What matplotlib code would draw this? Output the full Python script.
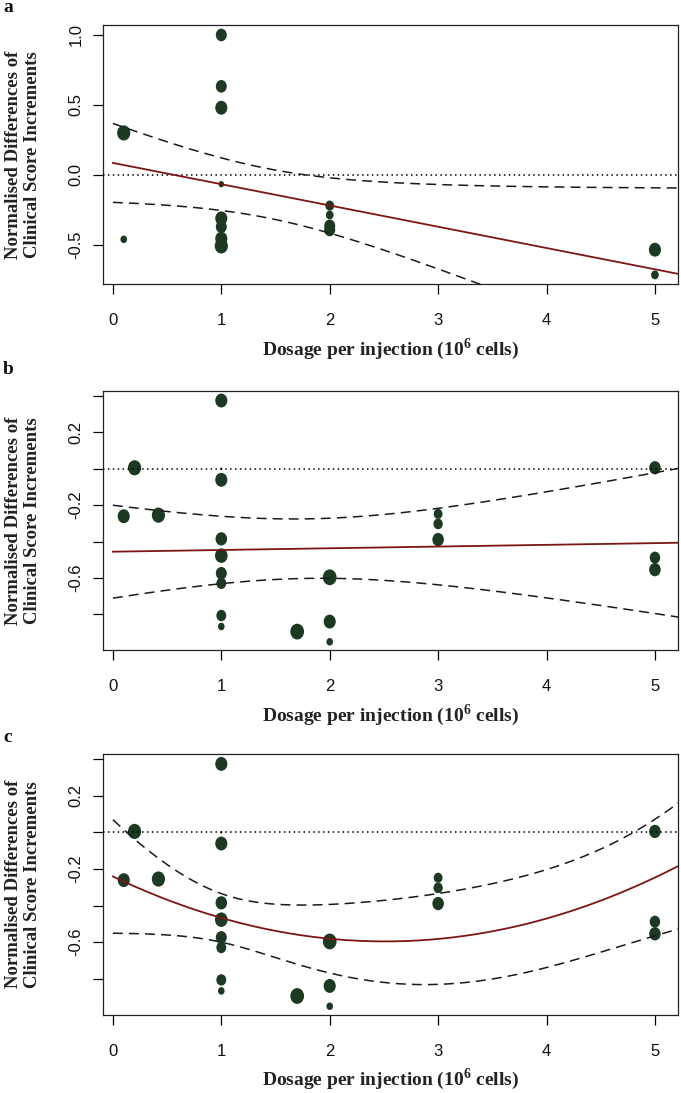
import numpy as np
import matplotlib
matplotlib.use("Agg")
import matplotlib.pyplot as plt
from matplotlib.ticker import FixedLocator, FixedFormatter
from matplotlib.path import Path
from matplotlib.transforms import Affine2D

plt.rcParams["mathtext.fontset"] = "custom"
plt.rcParams["mathtext.rm"] = "Liberation Serif:bold"
plt.rcParams["mathtext.bf"] = "Liberation Serif:bold"

# panel a data (dose, value, marker width in px)
a_x = [0.1, 0.1, 1, 1, 1, 1, 1, 1, 1, 1, 2, 2, 2, 2, 5, 5]
a_y = [0.30, -0.46, 1.00, 0.633, 0.48, -0.066, -0.31, -0.37, -0.455, -0.507,
       -0.219, -0.286, -0.364, -0.393, -0.534, -0.714]
a_size = [12, 6, 10, 10, 11, 5, 11, 10, 11, 12, 8, 7, 10, 10, 11, 7]

# panels b and c share the same points
bc_x = [0.1, 0.2, 0.42, 1, 1, 1, 1, 1, 1, 1, 1, 1, 1.7, 2, 2, 2, 3, 3, 3, 5, 5, 5]
bc_y = [-0.261, 0.005, -0.255, 0.374, 0.0, -0.061, -0.385, -0.477, -0.574, -0.629,
        -0.806, -0.866, -0.894, -0.596, -0.839, -0.950, -0.248, -0.303, -0.389,
        0.005, -0.488, -0.554]
bc_size = [11, 12, 12, 11, 2, 11, 10.5, 11.5, 10, 9, 9, 6, 12.5, 12.5, 11, 6,
           8, 8.5, 10.5, 10.5, 9.5, 10.5]

# fitted models: mean polynomial, and squared CI half-width polynomial
a_fit = [-0.152, 0.086]
a_var = [0.024, -0.06816, 0.0794]
b_fit = [0.0094, -0.4555]
b_var = [0.01192, -0.04275, 0.06502]
c_fit = [0.0563, -0.2827, -0.2409]
c_var = [0.002567, -0.029909, 0.119759, -0.170917, 0.0961]

x_ticks = [0, 1, 2, 3, 4, 5]
a_yticks = [-0.5, 0.0, 0.5, 1.0]
a_ylabels = ["-0.5", "0.0", "0.5", "1.0"]
bc_yticks = [-1.0, -0.8, -0.6, -0.4, -0.2, 0.0, 0.2, 0.4]
bc_ylabels = ["-1.0", "", "-0.6", "", "-0.2", "", "0.2", ""]

PT_COL = "#1c3a22"
RED = "#7d1517"
SERIF = "Liberation Serif"
SANS = "Liberation Sans"

# slightly tall dots, as in the original
STRETCH = 1.15
dot = Path.unit_circle().transformed(Affine2D().scale(1, STRETCH))

W, H = 681, 1093
fig = plt.figure(figsize=(W / 100, H / 100), dpi=100)

panels = [
    ("a", (25, 284), a_x, a_y, a_size, a_fit, a_var, (-0.779, 1.071), a_yticks, a_ylabels),
    ("b", (390.7, 650), bc_x, bc_y, bc_size, b_fit, b_var, (-0.995, 0.428), bc_yticks, bc_ylabels),
    ("c", (754, 1014.5), bc_x, bc_y, bc_size, c_fit, c_var, (-0.995, 0.428), bc_yticks, bc_ylabels),
]
left, right = 102.7, 677.7
letter_y = [8, 369, 738]

for i, (lab, (top, bot), xs, ys, sz, fit, var, ylim, yt, ytl) in enumerate(panels):
    ax = fig.add_axes([left / W, 1 - bot / H, (right - left) / W, (bot - top) / H])
    s = (0.72 * 1.1 * np.array(sz) * STRETCH) ** 2
    ax.scatter(xs, ys, s=s, marker=dot, color=PT_COL, edgecolor="none", zorder=2)

    xx = np.linspace(0, 5.4, 300)
    mid = np.polyval(fit, xx)
    half = np.sqrt(np.polyval(var, xx))
    ax.axhline(0, color="black", lw=1.1, ls=(0, (1, 2.2)), zorder=3)
    ax.plot(xx, mid + half, color="#1a1a1a", lw=1.1, ls=(0, (6.5, 4)), zorder=3)
    ax.plot(xx, mid - half, color="#1a1a1a", lw=1.1, ls=(0, (6.5, 4)), zorder=3)
    ax.plot(xx, mid, color=RED, lw=1.3, zorder=4)

    ax.set_xlim(-0.094, 5.21)
    ax.set_ylim(*ylim)
    ax.xaxis.set_major_locator(FixedLocator(x_ticks))
    ax.yaxis.set_major_locator(FixedLocator(yt))
    ax.yaxis.set_major_formatter(FixedFormatter(ytl))
    ax.tick_params(axis="both", direction="out", length=7, width=0.9, colors="black")
    ax.tick_params(axis="x", pad=14)
    ax.tick_params(axis="y", pad=7, labelrotation=90)
    for t in ax.get_xticklabels() + ax.get_yticklabels():
        t.set_fontfamily(SANS)
        t.set_fontsize(12)
        t.set_color("#111111")
    for t in ax.get_yticklabels():
        t.set_va("center")
    for sp in ax.spines.values():
        sp.set_linewidth(0.9)
        sp.set_color("#222222")

    cy = 1 - (top + bot) / 2 / H
    fig.text(23 / W, cy, "Normalised Differences of\nClinical Score Increments",
             rotation=90, ha="center", va="center", multialignment="center",
             fontfamily=SERIF, fontweight="bold", fontsize=13.5, linespacing=1.2,
             color="#222222")
    fig.text((left + right) / 2 / W, 1 - (bot + 65) / H,
             r"Dosage per injection (10$^{6}$ cells)",
             ha="center", va="center", fontfamily=SERIF, fontweight="bold",
             fontsize=14, color="#222222")
    fig.text(3 / W, 1 - letter_y[i] / H, lab, ha="left", va="center",
             fontfamily=SERIF, fontweight="bold", fontsize=14, color="#111111")

fig.savefig("out.png", dpi=100)
